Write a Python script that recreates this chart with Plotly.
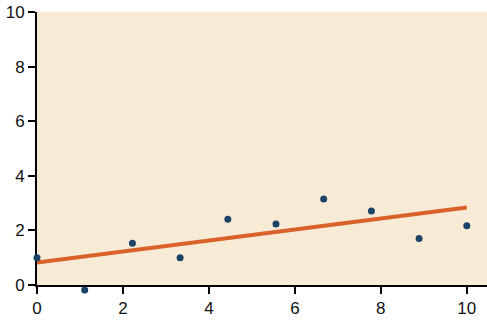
import plotly.graph_objects as go

x_pts = [0, 1.11, 2.22, 3.33, 4.44, 5.56, 6.67, 7.78, 8.89, 10]
y_pts = [1.0, -0.18, 1.53, 1.0, 2.41, 2.23, 3.15, 2.71, 1.70, 2.17]
x_line = [0, 10]
y_line = [0.82, 2.84]
tick_vals = [0, 2, 4, 6, 8, 10]

X_RANGE = [0, 10.47]
Y_RANGE = [0, 10]
Y_RANGE_EXT = [-0.403, 10]
D0 = 11 / 284

fig = go.Figure()
fig.add_trace(go.Scatter(x=x_line, y=y_line, mode="lines", xaxis="x", yaxis="y",
                         line=dict(color="#D9622B", width=4), cliponaxis=False))
fig.add_trace(go.Scatter(x=x_pts, y=y_pts, mode="markers", xaxis="x2", yaxis="y2",
                         marker=dict(color="#1C4266", size=7), cliponaxis=False))

axis_common = dict(showgrid=False, zeroline=False, showline=True, linecolor="black",
                   linewidth=2, ticks="outside", ticklen=7, tickwidth=2, tickcolor="black",
                   tickvals=tick_vals,
                   tickfont=dict(family="Liberation Sans, Arial", size=17, color="#111111"))
hidden = dict(visible=False, showgrid=False, zeroline=False)

fig.update_layout(
    width=487, height=323, margin=dict(l=37, r=0, t=12, b=27),
    plot_bgcolor="rgba(0,0,0,0)", paper_bgcolor="white", showlegend=False,
    xaxis=dict(range=X_RANGE, anchor="y", **axis_common),
    yaxis=dict(range=Y_RANGE, domain=[D0, 1], anchor="x", **axis_common),
    xaxis2=dict(range=X_RANGE, anchor="y2", overlaying="x", **hidden),
    yaxis2=dict(range=Y_RANGE_EXT, domain=[0, 1], anchor="x2", **hidden),
    shapes=[dict(type="rect", xref="x domain", yref="y domain", x0=0, x1=1, y0=0, y1=1,
                 fillcolor="#F8EBD6", line=dict(width=0), layer="below")],
)
fig.write_html("out.html")
